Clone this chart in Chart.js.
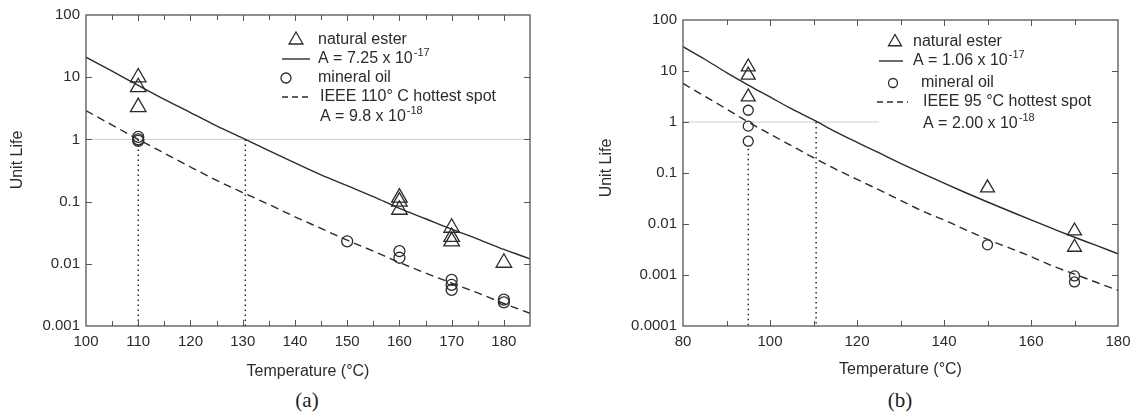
<!DOCTYPE html>
<html>
<head>
<meta charset="utf-8">
<script src="https://cdn.jsdelivr.net/npm/chart.js@4.4.1/dist/chart.umd.min.js"></script>
<style>
  html, body { margin: 0; padding: 0; background: #fff; }
  #wrap { position: relative; width: 1138px; height: 416px; overflow: hidden; background: #fff; }
  .cv { position: absolute; top: 0; }
  .cap { position: absolute; top: 388px; font-family: "Liberation Serif", "DejaVu Serif", serif; font-size: 21px; color: #222; transform: translateX(-50%); }
</style>
</head>
<body>
<div id="wrap">
  <div class="cv" style="left:0px;width:560px;height:385px;"><canvas id="ca"></canvas></div>
  <div class="cv" style="left:570px;width:568px;height:385px;"><canvas id="cb"></canvas></div>
  <div class="cap" style="left:307px;">(a)</div>
  <div class="cap" style="left:900px;">(b)</div>
</div>
<script>
// ---------------- Data: chart (a) ----------------
const esterA_T    = [110, 110, 110, 160, 160, 160, 170, 170, 170, 180];
const esterA_life = [9.9, 6.9, 3.3, 0.116, 0.1, 0.074, 0.038, 0.027, 0.023, 0.0104];
const oilA_T      = [110, 110, 110, 150, 160, 160, 170, 170, 170, 180, 180];
const oilA_life   = [1.1, 1.0, 0.95, 0.023, 0.016, 0.0125, 0.0055, 0.0046, 0.0038, 0.00265, 0.0024];
const curveA_T    = [100, 105, 110, 115, 120, 125, 130, 135, 140, 145, 150, 155, 160, 165, 170, 175, 180, 185];
const fitA_life   = [21, 12.5, 7.4, 4.4, 2.7, 1.65, 1.05, 0.66, 0.42, 0.27, 0.18, 0.12, 0.078, 0.053, 0.036, 0.025, 0.017, 0.012];
const ieeeA_life  = [2.9, 1.7, 1.0, 0.6, 0.36, 0.22, 0.14, 0.09, 0.057, 0.037, 0.024, 0.016, 0.0105, 0.0071, 0.0049, 0.0034, 0.0023, 0.0016];
const refA_T      = [110, 130.5];          // dotted reference temperatures
const xTicksA     = [100, 110, 120, 130, 140, 150, 160, 170, 180];
const xMinorA     = [105, 115, 125, 135, 145, 155, 165, 175, 185];
const yTicksA     = [100, 10, 1, 0.1, 0.01, 0.001];
const legendA     = ["natural ester", "A = 7.25 x 10", "-17", "mineral oil", "IEEE 110\u00b0 C hottest spot", "A = 9.8 x 10", "-18"];

// ---------------- Data: chart (b) ----------------
const esterB_T    = [95, 95, 95, 150, 170, 170];
const esterB_life = [12, 8.3, 3.1, 0.051, 0.0073, 0.0035];
const oilB_T      = [95, 95, 95, 150, 170, 170];
const oilB_life   = [1.7, 0.83, 0.42, 0.0039, 0.00096, 0.00073];
const curveB_T    = [80, 85, 90, 95, 100, 105, 110, 115, 120, 125, 130, 135, 140, 145, 150, 155, 160, 165, 170, 175, 180];
const fitB_life   = [30, 17, 9.3, 5.3, 3.1, 1.8, 1.1, 0.65, 0.40, 0.25, 0.155, 0.098, 0.063, 0.041, 0.027, 0.018, 0.012, 0.0081, 0.0055, 0.0038, 0.0026];
const ieeeB_life  = [5.7, 3.2, 1.8, 1.0, 0.58, 0.34, 0.2, 0.12, 0.075, 0.047, 0.029, 0.018, 0.012, 0.0077, 0.005, 0.0034, 0.0023, 0.0015, 0.00104, 0.00072, 0.0005];
const refB_T      = [95, 110.6];
const xTicksB     = [80, 100, 120, 140, 160, 180];
const xMinorB     = [90, 110, 130, 150, 170];
const yTicksB     = [100, 10, 1, 0.1, 0.01, 0.001, 0.0001];
const legendB     = ["natural ester", "A = 1.06 x 10", "-17", "mineral oil", "IEEE 95 \u00b0C hottest spot", "A = 2.00 x 10", "-18"];

const INK = '#2b2b2b';
const FONT = '"Liberation Sans", Arial, sans-serif';

function pts(xs, ys) { return xs.map((x, i) => ({ x: x, y: ys[i] })); }

// Frame + inward ticks + axis titles
const framePlugin = {
  id: 'framePlugin',
  afterDraw(chart, args, o) {
    const ctx = chart.ctx, a = chart.chartArea;
    const xs = chart.scales.x, ys = chart.scales.y;
    ctx.save();
    ctx.strokeStyle = '#555';
    ctx.lineWidth = 1.3;
    ctx.strokeRect(a.left, a.top, a.right - a.left, a.bottom - a.top);
    ctx.lineWidth = 1;
    ctx.beginPath();
    o.xMajor.concat(o.xMinor).forEach(v => {
      const px = Math.round(xs.getPixelForValue(v)) + 0.5;
      if (px < a.left + 1 || px > a.right - 1) return;
      const L = o.xMajor.includes(v) ? 6 : 5;
      ctx.moveTo(px, a.bottom); ctx.lineTo(px, a.bottom - L);
      ctx.moveTo(px, a.top); ctx.lineTo(px, a.top + L);
    });
    o.yMajor.forEach(v => {
      const py = Math.round(ys.getPixelForValue(v)) + 0.5;
      if (py < a.top + 1 || py > a.bottom - 1) return;
      ctx.moveTo(a.left, py); ctx.lineTo(a.left + 6, py);
      ctx.moveTo(a.right, py); ctx.lineTo(a.right - 6, py);
    });
    ctx.stroke();
    // axis titles
    ctx.fillStyle = INK;
    ctx.font = '16px ' + FONT;
    ctx.textAlign = 'center';
    ctx.textBaseline = 'middle';
    ctx.fillText('Temperature (\u00b0C)', (a.left + a.right) / 2, o.xTitleY);
    ctx.translate(o.yTitleX, o.yTitleY);
    ctx.rotate(-Math.PI / 2);
    ctx.fillText('Unit Life', 0, 0);
    ctx.restore();
  }
};

// Custom legend (inside plot area)
const legendPlugin = {
  id: 'legendPlugin',
  afterDraw(chart, args, o) {
    const ctx = chart.ctx;
    const t = o.texts, L = o.layout;
    ctx.save();
    ctx.fillStyle = INK; ctx.strokeStyle = INK;
    ctx.textAlign = 'left'; ctx.textBaseline = 'middle';
    ctx.font = '16px ' + FONT;
    // triangle
    ctx.lineWidth = 1.3;
    const tr = L.triR, tx = L.triX, ty = L.rows[0];
    ctx.beginPath();
    ctx.moveTo(tx, ty - tr);
    ctx.lineTo(tx + tr * 0.866, ty + tr * 0.5);
    ctx.lineTo(tx - tr * 0.866, ty + tr * 0.5);
    ctx.closePath(); ctx.stroke();
    ctx.fillText(t[0], L.textX[0], ty);
    // solid line
    ctx.beginPath(); ctx.lineWidth = 1.4;
    ctx.moveTo(L.solid[0], L.rows[1]); ctx.lineTo(L.solid[1], L.rows[1]); ctx.stroke();
    ctx.fillText(t[1], L.textX[1], L.rows[1]);
    let w = ctx.measureText(t[1]).width;
    ctx.font = '11px ' + FONT;
    ctx.fillText(t[2], L.textX[1] + w + 1, L.rows[1] - 6);
    ctx.font = '16px ' + FONT;
    // circle
    ctx.beginPath(); ctx.lineWidth = 1.3;
    ctx.arc(L.circX, L.rows[2], L.circR, 0, Math.PI * 2); ctx.stroke();
    ctx.fillText(t[3], L.textX[2], L.rows[2]);
    // dashed
    ctx.beginPath(); ctx.lineWidth = 1.4; ctx.setLineDash([6, 4]);
    ctx.moveTo(L.dash[0], L.rows[3]); ctx.lineTo(L.dash[1], L.rows[3]); ctx.stroke();
    ctx.setLineDash([]);
    ctx.fillText(t[4], L.textX[3], L.rows[3]);
    ctx.fillText(t[5], L.textX[3], L.rows[4]);
    w = ctx.measureText(t[5]).width;
    ctx.font = '11px ' + FONT;
    ctx.fillText(t[6], L.textX[3] + w + 1, L.rows[4] - 6);
    ctx.restore();
  }
};

function makeChart(id, cfg) {
  const datasets = [
    { type: 'line', label: 'ref1', data: pts(cfg.refLineT, [1, 1]), borderColor: '#cfcfcf', borderWidth: 1, pointRadius: 0, order: 9 },
    { type: 'line', label: 'dot1', data: pts([cfg.refT[0], cfg.refT[0]], [cfg.dot1Top, cfg.yMin]), borderColor: '#1a1a1a', borderWidth: 1.4, borderDash: [1.5, 3.5], pointRadius: 0, order: 8 },
    { type: 'line', label: 'dot2', data: pts([cfg.refT[1], cfg.refT[1]], [1, cfg.yMin]), borderColor: '#1a1a1a', borderWidth: 1.4, borderDash: [1.5, 3.5], pointRadius: 0, order: 8 },
    { type: 'line', label: 'fit', data: pts(cfg.curveT, cfg.fit), borderColor: INK, borderWidth: 1.4, pointRadius: 0, cubicInterpolationMode: 'monotone', order: 5 },
    { type: 'line', label: 'ieee', data: pts(cfg.curveT, cfg.ieee), borderColor: INK, borderWidth: 1.4, borderDash: [8, 5], pointRadius: 0, cubicInterpolationMode: 'monotone', order: 5 },
    { type: 'scatter', label: 'ester', data: pts(cfg.esterT, cfg.ester), pointStyle: 'triangle', pointRadius: cfg.triR, borderColor: INK, backgroundColor: 'rgba(0,0,0,0)', pointBorderWidth: 1.3, order: 1 },
    { type: 'scatter', label: 'oil', data: pts(cfg.oilT, cfg.oil), pointStyle: 'circle', pointRadius: cfg.circR, borderColor: INK, backgroundColor: 'rgba(0,0,0,0)', pointBorderWidth: 1.3, order: 1 }
  ];
  return new Chart(document.getElementById(id), {
    data: { datasets },
    options: {
      responsive: true, maintainAspectRatio: false, animation: false,
      layout: { padding: { top: cfg.padTop, right: cfg.padRight, left: 0, bottom: 0 } },
      plugins: {
        legend: { display: false }, tooltip: { enabled: false },
        framePlugin: cfg.frame, legendPlugin: cfg.legend
      },
      scales: {
        x: {
          type: 'linear', min: cfg.xMin, max: cfg.xMax,
          grid: { display: false, drawTicks: false }, border: { display: false },
          afterBuildTicks: s => { s.ticks = cfg.xTicks.map(v => ({ value: v })); },
          afterFit: s => { s.height = cfg.xH; },
          ticks: { color: INK, font: { family: FONT, size: 15 }, padding: 7, maxRotation: 0, autoSkip: false }
        },
        y: {
          type: 'logarithmic', min: cfg.yMin, max: 100,
          grid: { display: false, drawTicks: false }, border: { display: false },
          afterBuildTicks: s => { s.ticks = cfg.yTicks.map(v => ({ value: v })); },
          afterFit: s => { s.width = cfg.yW; },
          ticks: { color: INK, font: { family: FONT, size: 15 }, padding: 6, autoSkip: false, callback: v => String(v) }
        }
      }
    },
    plugins: [framePlugin, legendPlugin]
  });
}

makeChart('ca', {
  esterT: esterA_T, ester: esterA_life, oilT: oilA_T, oil: oilA_life,
  curveT: curveA_T, fit: fitA_life, ieee: ieeeA_life,
  refT: refA_T, refLineT: [100, 185], dot1Top: 1, yMin: 0.001,
  xMin: 100, xMax: 185, xTicks: xTicksA, yTicks: yTicksA,
  triR: 9, circR: 5.5,
  padTop: 15, padRight: 30, xH: 59, yW: 86,
  frame: { xMajor: xTicksA, xMinor: xMinorA, yMajor: yTicksA, xTitleY: 372, yTitleX: 18, yTitleY: 160 },
  legend: { texts: legendA, layout: { rows: [40, 59, 78, 97, 117], triX: 296, triR: 8, circX: 286, circR: 5,
    solid: [282, 310], dash: [282, 312], textX: [318, 318, 318, 320] } }
});

makeChart('cb', {
  esterT: esterB_T, ester: esterB_life, oilT: oilB_T, oil: oilB_life,
  curveT: curveB_T, fit: fitB_life, ieee: ieeeB_life,
  refT: refB_T, refLineT: [80, 125], dot1Top: 0.3, yMin: 0.0001,
  xMin: 80, xMax: 180, xTicks: xTicksB, yTicks: yTicksB,
  triR: 8, circR: 5,
  padTop: 20, padRight: 20, xH: 59, yW: 113,
  frame: { xMajor: xTicksB, xMinor: xMinorB, yMajor: yTicksB, xTitleY: 370, yTitleX: 37, yTitleY: 168 },
  legend: { texts: legendB, layout: { rows: [42, 61, 83, 102, 124], triX: 325, triR: 7.5, circX: 323, circR: 4.5,
    solid: [309, 333], dash: [307, 338], textX: [343, 343, 351, 353] } }
});
</script>
</body>
</html>
